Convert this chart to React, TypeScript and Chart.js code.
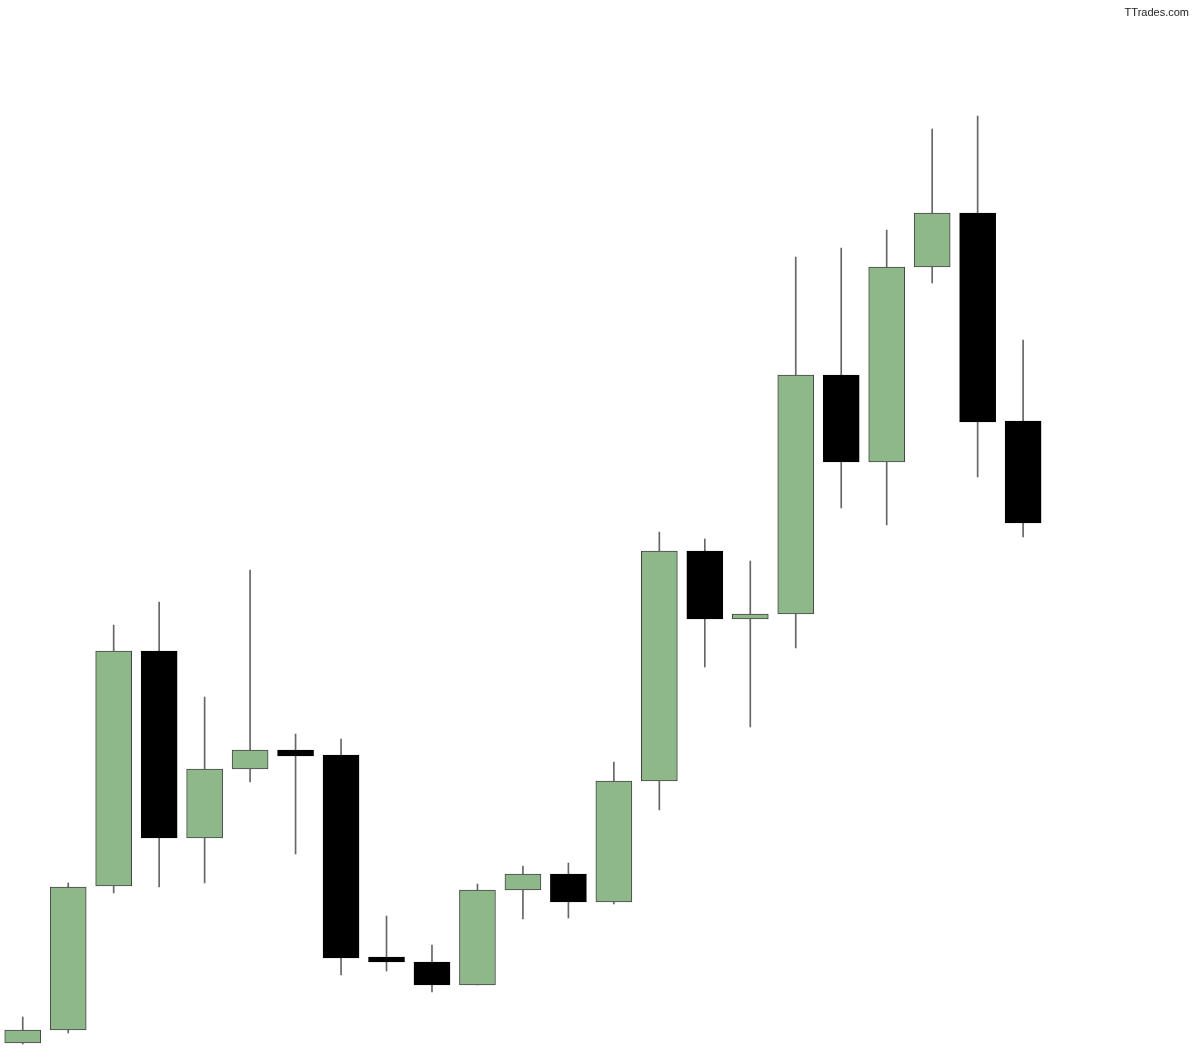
import React, { useEffect, useRef } from 'react';
import { Chart, registerables } from 'chart.js';
import type { ChartData, ChartOptions } from 'chart.js';

Chart.register(...registerables);

// price units are arbitrary (no axis shown)
const opens = [16, 29, 173, 408, 221, 290, 309, 304, 102, 97, 74, 169, 185, 157, 278, 508, 440, 445, 684, 597, 792, 846, 638];
const highs = [42, 176, 434, 457, 362, 489, 325, 320, 143, 114, 175, 193, 196, 297, 527, 520, 498, 802, 811, 829, 930, 943, 719];
const lows = [15, 26, 166, 172, 176, 277, 205, 84, 88, 67, 74, 140, 141, 155, 249, 392, 332, 411, 551, 534, 776, 582, 522];
const closes = [29, 172, 408, 221, 290, 309, 303, 101, 97, 74, 169, 185, 157, 278, 508, 440, 445, 684, 597, 792, 846, 637, 536];

const UP_COLOR = '#8fb88a';
const DOWN_COLOR = '#000000';

const CandleChart: React.FC = () => {
  const canvasRef = useRef<HTMLCanvasElement>(null);
  const chartRef = useRef<Chart | null>(null);

  useEffect(() => {
    if (!canvasRef.current) return;
    if (chartRef.current) chartRef.current.destroy();

    const bodies = opens.map((o, i) => ({ x: i, y: [o, closes[i]] }));
    const wicks = lows.map((l, i) => ({ x: i, y: [l, highs[i]] }));
    const fills = opens.map((o, i) => (closes[i] >= o ? UP_COLOR : DOWN_COLOR));
    const borders = opens.map((o, i) => (closes[i] >= o ? '#444444' : '#000000'));

    const data: ChartData<'bar'> = {
      datasets: [
        {
          label: 'body',
          data: bodies as any,
          backgroundColor: fills,
          borderColor: borders,
          borderWidth: 1,
          borderSkipped: false,
          barThickness: 36,
          grouped: false,
          order: 0,
        } as any,
        {
          label: 'wick',
          data: wicks as any,
          backgroundColor: '#666666',
          borderWidth: 0,
          barThickness: 1,
          grouped: false,
          order: 1,
        } as any,
      ],
    };

    const options: ChartOptions<'bar'> = {
      responsive: true,
      maintainAspectRatio: false,
      animation: false,
      layout: { padding: 0 },
      plugins: {
        legend: { display: false },
        tooltip: { enabled: false },
      },
      scales: {
        x: {
          type: 'linear',
          min: -0.5,
          max: 25.89,
          offset: false,
          display: false,
        },
        y: {
          min: 0,
          max: 1059,
          display: false,
        },
      },
    };

    chartRef.current = new Chart(canvasRef.current, { type: 'bar', data, options });

    return () => {
      if (chartRef.current) {
        chartRef.current.destroy();
        chartRef.current = null;
      }
    };
  }, []);

  return (
    <div style={{ position: 'fixed', left: 0, top: 0, width: 1200, height: 1059, background: '#ffffff' }}>
      <canvas ref={canvasRef}></canvas>
      <div
        style={{
          position: 'absolute',
          top: 6,
          right: 11,
          fontFamily: "'Liberation Sans', Arial, sans-serif",
          fontSize: 11,
          color: '#222222',
        }}
      >
        TTrades.com
      </div>
    </div>
  );
};

export default function App() {
  return <CandleChart />;
}
